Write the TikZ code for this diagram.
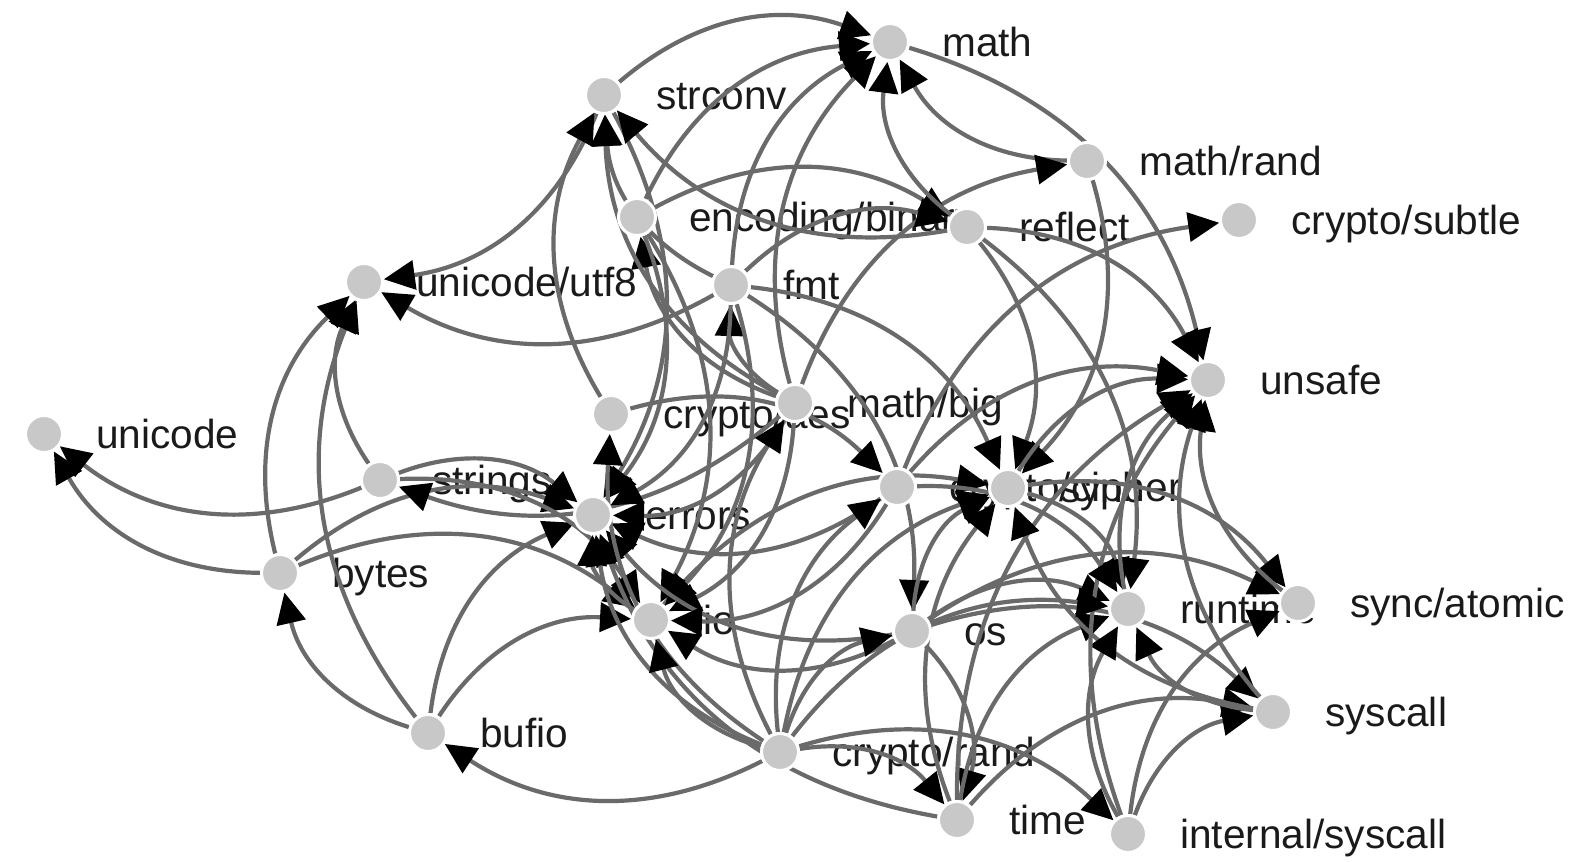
\documentclass[tikz,border=0pt]{standalone}
\usepackage{fontspec}
\setmainfont{Liberation Sans}
\usetikzlibrary{arrows.meta}
\pgfdeclarelayer{lbl}
\pgfdeclarelayer{edg}
\pgfsetlayers{lbl,edg,main}
\definecolor{edgegray}{HTML}{6A6A6A}
\definecolor{nodegray}{HTML}{C8C8C8}
\definecolor{txt}{HTML}{1A1A1A}
\tikzset{
  pkg/.style={circle, fill=nodegray, draw=white, line width=3pt, minimum size=37pt, inner sep=0pt},
  pkglabel/.style={anchor=base west, inner sep=0pt, text=txt, font=\fontsize{40.6}{46}\selectfont},
  dep/.style={draw=edgegray, line width=4.2pt, -{Triangle[length=31pt,width=29pt,color=black]}, bend left=30},
}
\newcommand{\pkgnode}[4]{%
  \node[pkg] (#1) at (#2,#3) {};
  \begin{pgfonlayer}{lbl}\node[pkglabel] at ({#2+52},{#3+14}) {#4};\end{pgfonlayer}%
}
\begin{document}
\begin{tikzpicture}[x=1pt,y=-1pt]
\useasboundingbox (0,0) rectangle (1577,862);
\pkgnode{unicode}{44}{434}{unicode}
\pkgnode{utf8}{364}{282}{unicode/utf8}
\pkgnode{strconv}{604}{95}{strconv}
\pkgnode{enc}{637}{217}{encoding/binary}
\pkgnode{fmt}{731}{285}{fmt}
\pkgnode{aes}{611}{414}{crypto/aes}
\pkgnode{big}{795}{403}{math/big}
\pkgnode{strings}{380}{480}{strings}
\pkgnode{errors}{593}{515}{errors}
\pkgnode{bytes}{280}{573}{bytes}
\pkgnode{io}{651}{620}{io}
\pkgnode{bufio}{428}{733}{bufio}
\pkgnode{crand}{780}{752}{crypto/rand}
\pkgnode{math}{890}{42}{math}
\pkgnode{mathrand}{1087}{161}{math/rand}
\pkgnode{reflect}{967}{227}{reflect}
\pkgnode{subtle}{1239}{220}{crypto/subtle}
\pkgnode{unsafe}{1208}{380}{unsafe}
\pkgnode{cipher}{897}{487}{crypto/cipher}
\pkgnode{sync}{1008}{488}{sync}
\pkgnode{os}{912}{631}{os}
\pkgnode{runtime}{1128}{609}{runtime}
\pkgnode{atomic}{1298}{603}{sync/atomic}
\pkgnode{syscall}{1273}{712}{syscall}
\pkgnode{time}{957}{820}{time}
\pkgnode{isys}{1128}{834}{internal/syscall}
\begin{pgfonlayer}{edg}
\foreach \s/\t in {bufio/bytes, bufio/errors, bufio/io, bufio/utf8,
  bytes/errors, bytes/io, bytes/unicode, bytes/utf8,
  strings/errors, strings/io, strings/unicode, strings/utf8,
  strconv/errors, strconv/math, strconv/utf8,
  io/errors, io/sync, math/unsafe, mathrand/math, mathrand/sync,
  big/enc, big/errors, big/fmt, big/io, big/math, big/mathrand, big/strconv, big/strings,
  enc/errors, enc/io, enc/math, enc/reflect,
  reflect/math, reflect/runtime, reflect/strconv, reflect/sync, reflect/unsafe,
  fmt/errors, fmt/io, fmt/math, fmt/os, fmt/reflect, fmt/strconv, fmt/sync, fmt/utf8,
  os/errors, os/io, os/runtime, os/sync, os/atomic, os/syscall, os/time,
  time/errors, time/runtime, time/sync, time/syscall, time/unsafe,
  sync/runtime, sync/atomic, sync/unsafe, atomic/unsafe, runtime/unsafe,
  syscall/runtime, syscall/sync, syscall/unsafe,
  isys/runtime, isys/atomic, isys/syscall, isys/unsafe,
  aes/cipher, aes/strconv,
  cipher/subtle, cipher/errors, cipher/io, cipher/runtime, cipher/unsafe,
  crand/bufio, crand/aes, crand/cipher, crand/errors, crand/io, crand/big,
  crand/os, crand/runtime, crand/sync, crand/time, crand/isys}
  \draw[dep] (\s) to (\t);
\end{pgfonlayer}
\end{tikzpicture}
\end{document}
